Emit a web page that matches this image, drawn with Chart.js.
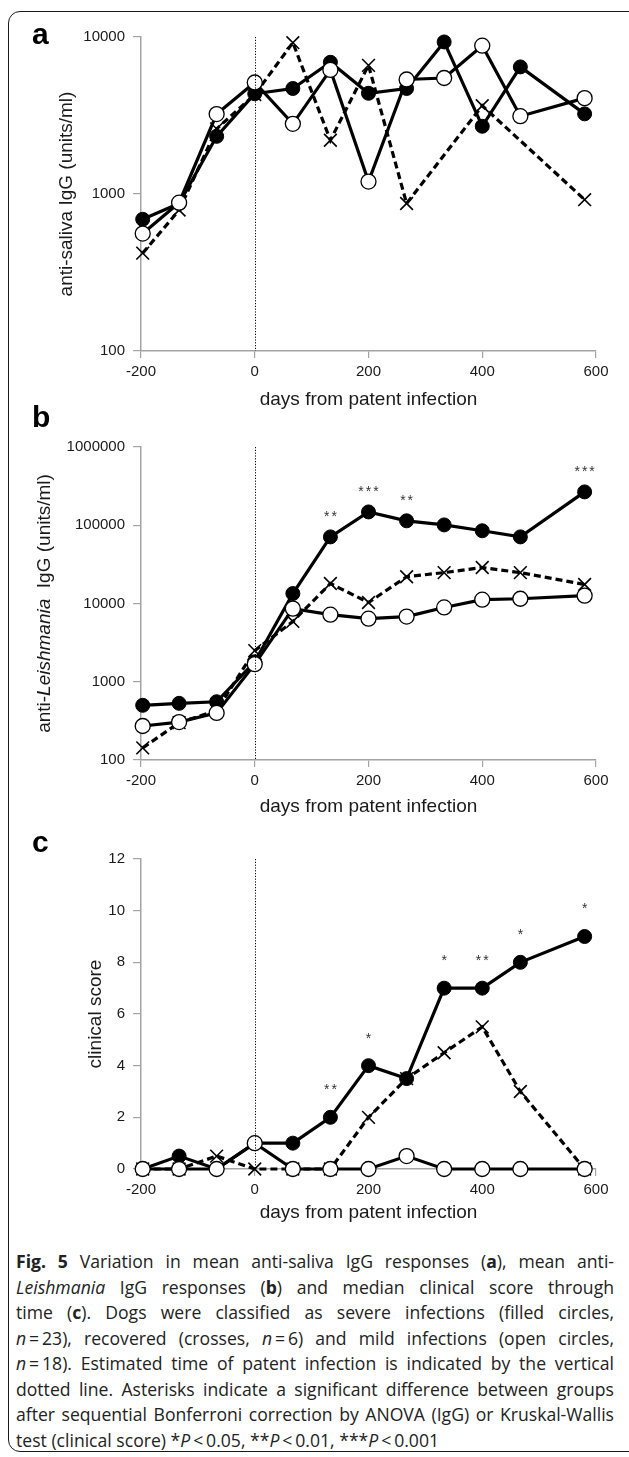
<!DOCTYPE html>
<html>
<head>
<meta charset="utf-8">
<script src="https://cdn.jsdelivr.net/npm/chart.js@4.4.1/dist/chart.umd.min.js"></script>
<style>
  html, body { margin: 0; padding: 0; background: #fff; }
  body { width: 629px; height: 1457px; overflow: hidden; position: relative; }
  #frame { position: absolute; left: 8px; top: 11px; width: 660px; height: 1441px;
           border: 1.5px solid #1a1a1a; border-radius: 12px; box-sizing: border-box; }
  canvas { position: absolute; left: 0; }
  .letter { position: absolute; left: 32px; font: bold 30px/30px 'Liberation Sans', Arial, sans-serif; color: #000; }
  #caption { position: absolute; left: 16px; top: 1249px; width: 598px;
             font-family: 'Open Sans', sans-serif; font-size: 17.6px; color: #222; }
  #caption div { height: 25.5px; line-height: 25.5px; white-space: nowrap; }
</style>
</head>
<body>
<div id="frame"></div>
<canvas id="chartA" width="629" height="421"></canvas>
<canvas id="chartB" width="629" height="407"></canvas>
<canvas id="chartC" width="629" height="404"></canvas>
<div class="letter" style="top:18.6px">a</div>
<div class="letter" style="top:401.6px">b</div>
<div class="letter" style="top:826.6px">c</div>
<div id="caption">
  <div><span><b>Fig. 5</b> Variation in mean anti-saliva IgG responses (<b>a</b>), mean anti-</span></div>
  <div><span><i>Leishmania</i> IgG responses (<b>b</b>) and median clinical score through</span></div>
  <div><span>time (<b>c</b>). Dogs were classified as severe infections (filled circles,</span></div>
  <div><span><i>n</i>&#8201;=&#8201;23), recovered (crosses, <i>n</i>&#8201;=&#8201;6) and mild infections (open circles,</span></div>
  <div><span><i>n</i>&#8201;=&#8201;18). Estimated time of patent infection is indicated by the vertical</span></div>
  <div><span>dotted line. Asterisks indicate a significant difference between groups</span></div>
  <div><span>after sequential Bonferroni correction by ANOVA (IgG) or Kruskal-Wallis</span></div>
  <div class="last"><span>test (clinical score) *<i>P</i>&#8201;&lt;&#8201;0.05, **<i>P</i>&#8201;&lt;&#8201;0.01, ***<i>P</i>&#8201;&lt;&#8201;0.001</span></div>
</div>
<script>
// sampling times (days from patent infection)
const days = [-197, -133, -67, 0, 67, 133, 200, 267, 333, 400, 467, 580];
const xTicks = [-200, 0, 200, 400, 600];

// a: anti-saliva IgG (units/ml)
const salivaSevere = [690, 870, 2330, 4350, 4700, 6900, 4380, 4700, 9300, 2700, 6450, 3240];
const salivaRecovered = [420, 790, 2600, 4300, 9200, 2200, 6600, 870, null, 3650, null, 920];
const salivaMild = [560, 880, 3230, 5130, 2800, 6170, 1200, 5360, 5480, 8800, 3130, 4080];
const yTicksSaliva = [100, 1000, 10000];

// b: anti-Leishmania IgG (units/ml)
const leishSevere = [500, 530, 555, 1800, 13400, 71000, 148000, 114000, 101000, 85000, 71000, 267000];
const leishRecovered = [143, 300, 430, 2500, 5900, 18000, 10300, 22000, 24800, 28800, 24800, 17500];
const leishMild = [272, 305, 400, 1680, 8600, 7200, 6400, 6800, 8900, 11200, 11500, 12600];
const yTicksLeish = [100, 1000, 10000, 100000, 1000000];
const sigLeish = ['', '', '', '', '', '**', '***', '**', '', '', '', '***'];

// c: median clinical score
const clinSevere = [0, 0.5, 0, 1, 1, 2, 4, 3.5, 7, 7, 8, 9];
const clinRecovered = [0, 0, 0.5, 0, 0, 0, 2, 3.5, 4.5, 5.5, 3, 0];
const clinMild = [0, 0, 0, 1, 0, 0, 0, 0.5, 0, 0, 0, 0];
const yTicksClin = [0, 2, 4, 6, 8, 10, 12];
const sigClin = ['', '', '', '', '', '**', '*', '', '*', '**', '*', '*'];

const FONT = "'Liberation Sans', Arial, sans-serif";
const AXIS = '#a3a3a3';
const INK = '#1a1a1a';

function pts(ys) {
  return days.map((d, i) => ({ x: d, y: ys[i] }));
}

function series(values, kind) {
  const base = {
    data: pts(values), borderColor: '#000', borderWidth: 3.2, pointBorderColor: '#000',
    clip: false, spanGaps: true, tension: 0, fill: false
  };
  if (kind === 'severe') {
    return { ...base, label: 'severe', order: 3, pointStyle: 'circle', pointRadius: 7,
             pointBackgroundColor: '#000', pointBorderWidth: 1 };
  }
  if (kind === 'recovered') {
    return { ...base, label: 'recovered', order: 2, borderDash: [7, 4], pointStyle: 'crossRot',
             pointRadius: 9, pointBorderWidth: 1.6, pointBackgroundColor: '#000' };
  }
  return { ...base, label: 'mild', order: 1, pointStyle: 'circle', pointRadius: 7.5,
           pointBackgroundColor: '#fff', pointBorderWidth: 1.3 };
}

function makePanel(cfg) {
  const canvas = document.getElementById(cfg.id);
  canvas.style.top = cfg.top + 'px';

  const extras = {
    id: 'extras',
    afterDatasetsDraw(chart) {
      const { ctx, chartArea, scales } = chart;
      // vertical dotted line at patent infection
      const x0 = Math.round(scales.x.getPixelForValue(0)) + 0.5;
      ctx.save();
      ctx.strokeStyle = '#000';
      ctx.lineWidth = 1;
      ctx.setLineDash([1.2, 1.6]);
      ctx.beginPath();
      ctx.moveTo(x0, chartArea.top);
      ctx.lineTo(x0, chartArea.bottom);
      ctx.stroke();
      ctx.restore();

      // significance asterisks above the severe group
      if (cfg.sig) {
        const meta = chart.getDatasetMeta(0);
        ctx.save();
        ctx.fillStyle = '#333';
        ctx.font = '14px ' + FONT;
        ctx.textAlign = 'center';
        ctx.textBaseline = 'middle';
        ctx.letterSpacing = '2px';
        cfg.sig.forEach((s, i) => {
          if (!s) return;
          const p = meta.data[i];
          ctx.fillText(s, p.x + 1, p.y - cfg.sigOffset);
        });
        ctx.restore();
      }
    },
    afterDraw(chart) {
      const { ctx, chartArea } = chart;
      // y axis title (may mix italic)
      ctx.save();
      ctx.translate(cfg.titleX, (chartArea.top + chartArea.bottom) / 2);
      ctx.rotate(-Math.PI / 2);
      ctx.textBaseline = 'middle';
      ctx.fillStyle = INK;
      let total = 0;
      cfg.yTitle.forEach(seg => {
        ctx.font = (seg.italic ? 'italic ' : '') + '19px ' + FONT;
        seg.w = ctx.measureText(seg.text).width;
        total += seg.w;
      });
      let x = -total / 2;
      cfg.yTitle.forEach(seg => {
        ctx.font = (seg.italic ? 'italic ' : '') + '19px ' + FONT;
        ctx.fillText(seg.text, x, 0);
        x += seg.w;
      });
      ctx.restore();
    }
  };

  return new Chart(canvas.getContext('2d'), {
    type: 'line',
    data: {
      datasets: [
        series(cfg.severe, 'severe'),
        series(cfg.recovered, 'recovered'),
        series(cfg.mild, 'mild')
      ]
    },
    options: {
      responsive: false,
      animation: false,
      devicePixelRatio: 1,
      layout: { padding: { left: 0, right: 33, top: cfg.padTop, bottom: 0 } },
      plugins: { legend: { display: false }, tooltip: { enabled: false } },
      scales: {
        x: {
          type: 'linear', min: -200, max: 600,
          afterBuildTicks: s => { s.ticks = xTicks.map(v => ({ value: v })); },
          ticks: { color: INK, font: { family: FONT, size: 15 }, padding: 5, maxRotation: 0 },
          grid: { drawOnChartArea: false, drawTicks: true, tickLength: 7, color: AXIS, lineWidth: 1.2 },
          border: { color: AXIS, width: 1.5 },
          title: { display: true, text: 'days from patent infection', color: INK,
                   font: { family: FONT, size: 19 }, padding: { top: 0, bottom: 9.6 } },
          afterFit: s => { s.height = cfg.xH; }
        },
        y: {
          type: cfg.log ? 'logarithmic' : 'linear',
          min: cfg.yTicks[0], max: cfg.yTicks[cfg.yTicks.length - 1],
          afterBuildTicks: s => { s.ticks = cfg.yTicks.map(v => ({ value: v })); },
          ticks: { color: INK, font: { family: FONT, size: 15 }, padding: 8, callback: v => String(v) },
          grid: { drawOnChartArea: false, drawTicks: true, tickLength: 8, color: AXIS, lineWidth: 1.2 },
          border: { color: AXIS, width: 1.5 },
          afterFit: s => { s.width = 141; }
        }
      }
    },
    plugins: [extras]
  });
}

makePanel({
  id: 'chartA', top: 0, padTop: 37, xH: 70, log: true, yTicks: yTicksSaliva,
  severe: salivaSevere, recovered: salivaRecovered, mild: salivaMild,
  titleX: 67,
  yTitle: [{ text: 'anti-saliva IgG (units/ml)' }]
});

makePanel({
  id: 'chartB', top: 421, padTop: 26, xH: 68, log: true, yTicks: yTicksLeish,
  severe: leishSevere, recovered: leishRecovered, mild: leishMild,
  titleX: 45,
  sig: sigLeish, sigOffset: 20,
  yTitle: [{ text: 'anti-' }, { text: 'Leishmania', italic: true }, { text: '  IgG (units/ml)' }]
});

makePanel({
  id: 'chartC', top: 830, padTop: 29, xH: 65, log: false, yTicks: yTicksClin,
  severe: clinSevere, recovered: clinRecovered, mild: clinMild,
  titleX: 96,
  sig: sigClin, sigOffset: 27,
  yTitle: [{ text: 'clinical score' }]
});

// justify caption lines by hand so the line breaks match the figure
document.querySelectorAll('#caption div:not(.last)').forEach(div => {
  const span = div.querySelector('span');
  const natural = span.getBoundingClientRect().width;
  const gaps = (span.textContent.match(/ /g) || []).length;
  if (gaps) div.style.wordSpacing = ((598 - natural) / gaps) + 'px';
});
</script>
</body>
</html>
